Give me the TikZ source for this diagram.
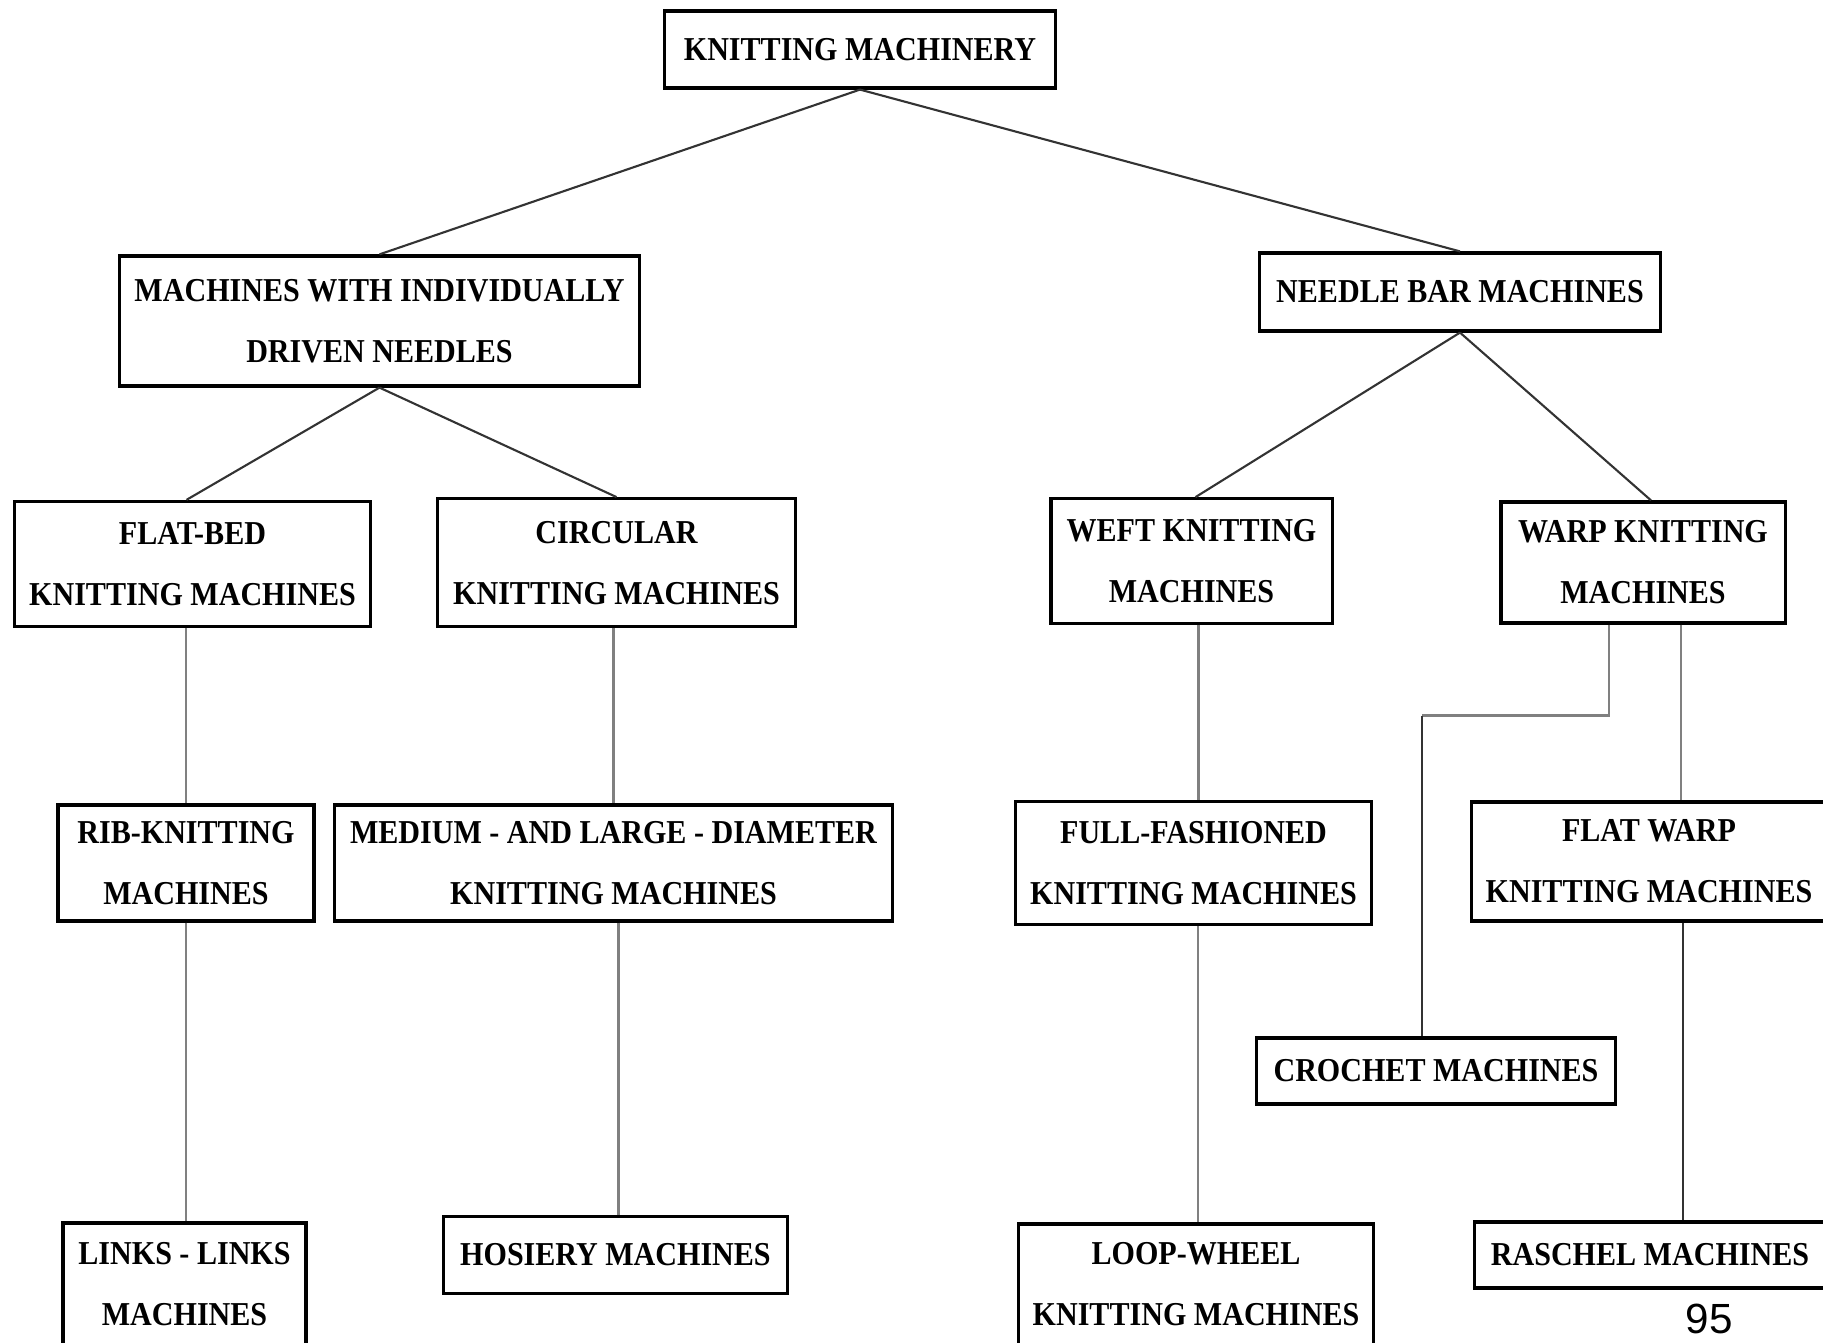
\documentclass[tikz,border=0pt]{standalone}
\usepackage{fontspec}
\newfontfamily\boxfont[FakeStretch=0.9]{Liberation Serif}
\newfontfamily\pagefont{Liberation Sans}
\usepackage{tikz}
\usetikzlibrary{calc}

\begin{document}
\begin{tikzpicture}[x=0.01cm, y=-0.01cm,
  box/.style={draw, line width=0.9pt, inner sep=0pt, align=center,
    font=\boxfont\bfseries\fontsize{9.5}{17.3}\selectfont},
  link/.style={draw=black!80, line width=0.6pt},
  vlink/.style={draw=black!50, line width=0.7pt}]
  \useasboundingbox (0,0) rectangle (1823,1343);
  % level 0 and 1
  \node[box, minimum width=3.90cm, minimum height=0.77cm] (km) at (860,49.5) {KNITTING MACHINERY};
  \node[box, minimum width=5.20cm, minimum height=1.30cm] (indiv) at (379.5,321) {MACHINES WITH INDIVIDUALLY\\DRIVEN NEEDLES};
  \node[box, minimum width=4.00cm, minimum height=0.78cm] (needle) at (1460,292) {NEEDLE BAR MACHINES};
  % level 2
  \node[box, minimum width=3.55cm, minimum height=1.25cm] (flatbed) at (192.5,564) {FLAT-BED\\KNITTING MACHINES};
  \node[box, minimum width=3.57cm, minimum height=1.28cm] (circ) at (616.5,562.7) {CIRCULAR\\KNITTING MACHINES};
  \node[box, minimum width=2.81cm, minimum height=1.245cm] (weft) at (1191.5,561) {WEFT KNITTING\\MACHINES};
  \node[box, minimum width=2.84cm, minimum height=1.21cm] (warp) at (1643,562.5) {WARP KNITTING\\MACHINES};
  % level 3
  \node[box, minimum width=2.56cm, minimum height=1.16cm] (rib) at (186,863) {RIB-KNITTING\\MACHINES};
  \node[box, minimum width=5.57cm, minimum height=1.16cm] (medium) at (613.5,863) {MEDIUM - AND LARGE - DIAMETER\\KNITTING MACHINES};
  \node[box, minimum width=3.55cm, minimum height=1.23cm] (fullf) at (1193.5,863) {FULL-FASHIONED\\KNITTING MACHINES};
  \node[box, minimum width=3.54cm, minimum height=1.19cm] (flatwarp) at (1649,861.5) {FLAT WARP\\KNITTING MACHINES};
  \node[box, minimum width=3.58cm, minimum height=0.66cm] (crochet) at (1436,1071) {CROCHET MACHINES};
  % level 4
  \node[box, minimum width=2.43cm, minimum height=1.22cm] (links) at (184.5,1284) {LINKS - LINKS\\MACHINES};
  \node[box, minimum width=3.43cm, minimum height=0.77cm] (hosiery) at (615.5,1255) {HOSIERY MACHINES};
  \node[box, minimum width=3.54cm, minimum height=1.21cm] (loop) at (1196,1284.5) {LOOP-WHEEL\\KNITTING MACHINES};
  \node[box, minimum width=3.50cm, minimum height=0.66cm] (raschel) at (1650,1255) {RASCHEL MACHINES};
  \node[anchor=base, inner sep=0pt, font=\pagefont\fontsize{12}{14}\selectfont] (page) at (1709,1333) {95};
  % shifted end points of the vertical links
  \coordinate (ffin) at ([xshift=0.05cm]fullf.north);
  \coordinate (fwin) at ([xshift=0.32cm]flatwarp.north);
  \coordinate (wpout) at ([xshift=-0.34cm]warp.south);
  \coordinate (crin) at ([xshift=-0.14cm]crochet.north);
  \coordinate (hsin) at ([xshift=0.03cm]hosiery.north);
  \coordinate (lwin) at ([xshift=0.02cm]loop.north);
  \coordinate (rsin) at ([xshift=0.33cm]raschel.north);
  % diagonal links
  \draw[link] (km.south) -- (indiv.north);
  \draw[link] (km.south) -- (needle.north);
  \draw[link] (indiv.south) -- ([xshift=-0.06cm]flatbed.north);
  \draw[link] (indiv.south) -- (circ.north);
  \draw[link] (needle.south) -- ([xshift=0.04cm]weft.north);
  \draw[link] (needle.south) -- ([xshift=0.08cm]warp.north);
  % vertical links
  \draw[vlink] (flatbed.south -| rib.north) -- (rib.north);
  \draw[vlink] (circ.south -| medium.north) -- (medium.north);
  \draw[vlink] (weft.south -| ffin) -- (ffin);
  \draw[vlink] (warp.south -| fwin) -- (fwin);
  \draw[vlink] (wpout) -- ++(0,91) coordinate (elbow) -- (elbow -| crin);
  \draw[link] (elbow -| crin) -- (crin);
  \draw[vlink] (rib.south) -- (rib.south |- links.north);
  \draw[vlink] (medium.south -| hsin) -- (hsin);
  \draw[vlink] (fullf.south -| lwin) -- (lwin);
  \draw[link] (flatwarp.south -| rsin) -- (rsin);
\end{tikzpicture}
\end{document}
